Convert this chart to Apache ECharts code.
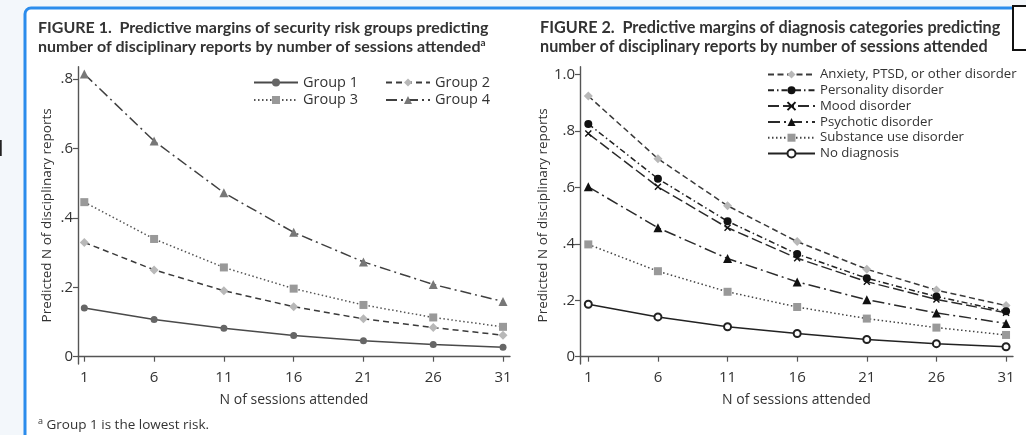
<!DOCTYPE html>
<html>
<head>
<meta charset="utf-8">
<script src="https://cdn.jsdelivr.net/npm/echarts@6/dist/echarts.min.js"></script>
<style>
html,body{margin:0;padding:0;background:#f3f7fb;}
#c{width:1026px;height:435px;}
</style>
</head>
<body>
<div id="c"></div>
<script>
// ---- data ----
var sessions = [1, 6, 11, 16, 21, 26, 31];
var group1 = [0.140, 0.107, 0.082, 0.061, 0.046, 0.035, 0.027];
var group2 = [0.329, 0.250, 0.190, 0.144, 0.109, 0.084, 0.062];
var group3 = [0.445, 0.339, 0.257, 0.196, 0.149, 0.113, 0.086];
var group4 = [0.814, 0.621, 0.472, 0.358, 0.273, 0.208, 0.159];

var anxiety     = [0.924, 0.702, 0.535, 0.408, 0.310, 0.236, 0.181];
var personality = [0.825, 0.631, 0.480, 0.364, 0.278, 0.213, 0.161];
var mood        = [0.791, 0.602, 0.457, 0.349, 0.266, 0.203, 0.156];
var psychotic   = [0.602, 0.457, 0.348, 0.265, 0.202, 0.155, 0.118];
var substance   = [0.398, 0.303, 0.230, 0.176, 0.135, 0.103, 0.077];
var noDiagnosis = [0.186, 0.141, 0.106, 0.082, 0.061, 0.046, 0.035];

var yTicks1 = [0, 0.2, 0.4, 0.6, 0.8];
var yLabels1 = ['0', '.2', '.4', '.6', '.8'];
var yTicks2 = [0, 0.2, 0.4, 0.6, 0.8, 1.0];
var yLabels2 = ['0', '.2', '.4', '.6', '.8', '1.0'];
var xLabels = ['1', '6', '11', '16', '21', '26', '31'];

// ---- helpers ----
function pts(vals) { return sessions.map(function (s, i) { return [s, vals[i]]; }); }
function lab(ticks, labels) {
  return function (v) {
    for (var i = 0; i < ticks.length; i++) if (Math.abs(ticks[i] - v) < 1e-6) return labels[i];
    return '';
  };
}
var FONT = 'Open Sans';
var AX = '#555';
function xAxis(idx, min) {
  return {
    type: 'value', gridIndex: idx, min: min, max: 31.5,
    name: 'N of sessions attended', nameLocation: 'middle', nameGap: 29,
    nameTextStyle: { fontFamily: FONT, fontSize: 14, color: '#333' },
    axisLine: { lineStyle: { color: AX, width: 1.4 } },
    axisTick: { customValues: sessions, length: 5, lineStyle: { color: AX, width: 1.2 } },
    axisLabel: { customValues: sessions, formatter: lab(sessions, xLabels), margin: 6,
      fontFamily: FONT, fontSize: 15, color: '#333' },
    splitLine: { show: false }
  };
}
function yAxis(idx, min, max, ticks, labels) {
  return {
    type: 'value', gridIndex: idx, min: min, max: max,
    name: 'Predicted N of disciplinary reports', nameLocation: 'middle', nameGap: 24,
    nameTextStyle: { fontFamily: FONT, fontSize: 13.5, color: '#333' },
    axisLine: { show: true, lineStyle: { color: AX, width: 1.4 } },
    axisTick: { show: true, customValues: ticks, length: 5, lineStyle: { color: AX, width: 1.2 } },
    axisLabel: { customValues: ticks, formatter: lab(ticks, labels), margin: 5,
      fontFamily: FONT, fontSize: 15, color: '#333' },
    splitLine: { show: false }
  };
}
function line(name, vals, gi, lineColor, dash, symbol, symSize, symColor, extraItem) {
  var item = { color: symColor };
  if (extraItem) for (var k in extraItem) item[k] = extraItem[k];
  return {
    type: 'line', name: name, xAxisIndex: gi, yAxisIndex: gi,
    data: pts(vals), symbol: symbol, symbolSize: symSize, showSymbol: true,
    lineStyle: { color: lineColor, width: 1.5, type: dash },
    itemStyle: item, z: 3
  };
}
var XMARK = 'path://M0,0L10,10M0,10L10,0';

var chart = echarts.init(document.getElementById('c'), null, { renderer: 'canvas' });
chart.setOption({
  animation: false,
  backgroundColor: 'transparent',
  graphic: [
    { type: 'rect', z: -10, shape: { x: 0, y: 0, width: 1026, height: 435 }, style: { fill: '#f3f7fb' } },
    { type: 'rect', z: -9, shape: { x: 25, y: 8, width: 1100, height: 500, r: 6 },
      style: { fill: '#ffffff', stroke: '#2b8cec', lineWidth: 3 } },
    { type: 'rect', z: -8, shape: { x: 1013, y: 6, width: 40, height: 44 },
      style: { fill: '#ffffff', stroke: '#111111', lineWidth: 2 } },
    { type: 'text', z: -8, x: -6, y: 139, style: { text: '1', fontFamily: FONT, fontSize: 22, fill: '#222' } }
  ],
  title: [
    { left: 38, top: 18.5, padding: 0,
      text: 'FIGURE 1.  Predictive margins of security risk groups predicting\nnumber of disciplinary reports by number of sessions attended{sup|a}',
      textStyle: { fontFamily: 'Lato', fontWeight: 'bold', fontSize: 16, color: '#333', lineHeight: 19,
        rich: { sup: { fontFamily: 'Lato', fontWeight: 'bold', fontSize: 10, color: '#333', verticalAlign: 'top', lineHeight: 19 } } } },
    { left: 540, top: 18.5, padding: 0,
      text: 'FIGURE 2.  Predictive margins of diagnosis categories predicting\nnumber of disciplinary reports by number of sessions attended',
      textStyle: { fontFamily: 'Lato', fontWeight: 'bold', fontSize: 16.2, color: '#333', lineHeight: 19 } },
    { left: 38, top: 417, padding: 0,
      text: '{sup|a} Group 1 is the lowest risk.',
      textStyle: { fontFamily: FONT, fontWeight: 'normal', fontSize: 13.5, color: '#333', lineHeight: 16,
        rich: { sup: { fontFamily: FONT, fontWeight: 'normal', fontSize: 9, color: '#333', verticalAlign: 'top', lineHeight: 16 } } } }
  ],
  grid: [
    { left: 78, top: 66.7, width: 432, height: 297.3 },
    { left: 580, top: 66.7, width: 433, height: 297.3 }
  ],
  xAxis: [xAxis(0, 0.548), xAxis(1, 0.404)],
  yAxis: [yAxis(0, -0.021, 0.835, yTicks1, yLabels1), yAxis(1, -0.026, 1.028, yTicks2, yLabels2)],
  legend: [
    { left: 253, top: 75, orient: 'vertical', itemWidth: 44, itemHeight: 10, itemGap: 2.5, padding: 0,
      textStyle: { fontFamily: FONT, fontSize: 14.5, color: '#333' }, data: ['Group 1', 'Group 3'] },
    { left: 385, top: 75, orient: 'vertical', itemWidth: 44, itemHeight: 10, itemGap: 2.5, padding: 0,
      textStyle: { fontFamily: FONT, fontSize: 14.5, color: '#333' }, data: ['Group 2', 'Group 4'] },
    { left: 767, top: 68, orient: 'vertical', itemWidth: 47, itemHeight: 10, itemGap: 2.8, padding: 0,
      textStyle: { fontFamily: FONT, fontSize: 13.2, color: '#333' },
      data: ['Anxiety, PTSD, or other disorder', 'Personality disorder', 'Mood disorder',
             'Psychotic disorder', 'Substance use disorder', 'No diagnosis'] }
  ],
  series: [
    line('Group 1', group1, 0, '#4a4a4a', 'solid', 'circle', 7, '#666'),
    line('Group 2', group2, 0, '#3a3a3a', [6, 4], 'diamond', 9, '#b8b8b8'),
    line('Group 3', group3, 0, '#555', [1.5, 2.5], 'rect', 8, '#999'),
    line('Group 4', group4, 0, '#404040', [11, 4, 2, 4], 'triangle', 9, '#777'),

    line('Anxiety, PTSD, or other disorder', anxiety, 1, '#3a3a3a', [6, 3.5], 'diamond', 9, '#b8b8b8'),
    line('Personality disorder', personality, 1, '#222', [6, 3, 1.5, 3], 'circle', 8, '#111'),
    line('Mood disorder', mood, 1, '#2a2a2a', [11, 4], XMARK, 6, 'rgba(0,0,0,0)', { borderColor: '#111', borderWidth: 1.4 }),
    line('Psychotic disorder', psychotic, 1, '#2a2a2a', [12, 4, 2, 4], 'triangle', 9, '#111'),
    line('Substance use disorder', substance, 1, '#444', [1.5, 2.5], 'rect', 8, '#999'),
    line('No diagnosis', noDiagnosis, 1, '#222', 'solid', 'emptyCircle', 7, '#222', { borderWidth: 1.2 })
  ]
});
</script>
</body>
</html>
